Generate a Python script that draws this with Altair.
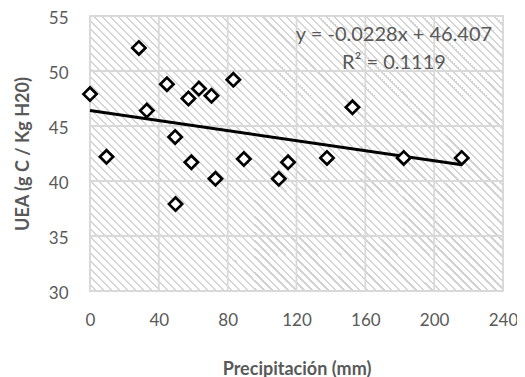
import altair as alt
import pandas as pd

# ---- data ----
precip = [0, 9.6, 28.4, 33, 44.7, 49.5, 49.7, 57.2, 58.9, 63.3,
          70.6, 72.9, 83.3, 89.4, 109.7, 115.1, 137.7, 152.5, 182.3, 216]
uea = [47.9, 42.2, 52.1, 46.4, 48.8, 44.0, 37.9, 47.5, 41.7, 48.4,
       47.75, 40.2, 49.2, 42.0, 40.2, 41.7, 42.1, 46.7, 42.1, 42.1]
x_ticks = [0, 40, 80, 120, 160, 200, 240]
y_ticks = [30, 35, 40, 45, 50, 55]
slope = -0.0228
intercept = 46.407
eq_text = "y = -0.0228x + 46.407"
r2_text = "R² = 0.1119"

W, H = 413, 275
FONT = "Lato"
GREY = "#595959"
GRID = "#d9d9d9"

pts = pd.DataFrame({"precip": precip, "uea": uea})
trend = pd.DataFrame({"precip": [0, max(precip)]})
trend["uea"] = slope * trend["precip"] + intercept

xscale = alt.Scale(domain=[0, 240], nice=False, zero=False)
yscale = alt.Scale(domain=[30, 55], nice=False, zero=False)

# hatch background as a striped linear gradient (downward diagonal)
s = (W + H) / (W * W + H * H)
period = 8 / (W + H)
stops = []
o = 0.0
while o < 1.0:
    a, b, c = o, min(o + period * 0.7, 1.0), min(o + period, 1.0)
    stops += [{"offset": a, "color": "#ffffff"}, {"offset": b, "color": "#ffffff"}]
    if b < 1.0:
        stops += [{"offset": b, "color": "#d4d4d4"}, {"offset": c, "color": "#d4d4d4"}]
    o = c
hatch = alt.Chart(pd.DataFrame({"a": [0]})).mark_rect(
    fill=alt.Gradient(gradient="linear", stops=stops,
                      x1=0, y1=1, x2=W * s, y2=1 - H * s),
    strokeWidth=0,
).encode(x=alt.value(0), x2=alt.value(W), y=alt.value(0), y2=alt.value(H))

xgrid = alt.Chart(pd.DataFrame({"v": x_ticks})).mark_rule(
    color=GRID, strokeWidth=1.8
).encode(x=alt.X("v:Q", scale=xscale))
ygrid = alt.Chart(pd.DataFrame({"v": y_ticks})).mark_rule(
    color=GRID, strokeWidth=1.8
).encode(y=alt.Y("v:Q", scale=yscale))

line = alt.Chart(trend).mark_line(color="black", strokeWidth=3).encode(
    x=alt.X("precip:Q", scale=xscale), y=alt.Y("uea:Q", scale=yscale)
)

points = alt.Chart(pts).mark_point(
    shape="diamond", size=175, filled=False, fill="white", fillOpacity=1,
    stroke="black", strokeWidth=2.7, opacity=1
).encode(
    x=alt.X("precip:Q", scale=xscale,
            axis=alt.Axis(values=x_ticks, title="Precipitación (mm)", grid=False,
                          domain=False, ticks=False, labelPadding=21,
                          labelFlush=False, labelOverlap=False,
                          titleY=83, titleBaseline="alphabetic")),
    y=alt.Y("uea:Q", scale=yscale,
            axis=alt.Axis(values=y_ticks, title="UEA (g C / Kg H20)", grid=False,
                          domain=False, ticks=False, labelPadding=22,
                          labelOffset=2.5,
                          labelFlush=False, labelOverlap=False,
                          titleX=-67, titleY=H / 2, titleAngle=-90,
                          titleAlign="center", titleBaseline="middle")),
)

eq = alt.Chart(pd.DataFrame({"t": [eq_text]})).mark_text(
    font=FONT, fontSize=20, color=GREY, align="center", baseline="middle"
).encode(x=alt.value(304), y=alt.value(19), text="t:N")
r2 = alt.Chart(pd.DataFrame({"t": [r2_text]})).mark_text(
    font=FONT, fontSize=20, color=GREY, align="center", baseline="middle"
).encode(x=alt.value(304), y=alt.value(47), text="t:N")

chart = alt.layer(hatch, xgrid, ygrid, line, points, eq, r2).properties(
    width=W, height=H,
    autosize=alt.AutoSizeParams(type="none"),
    padding={"left": 82, "top": 8, "right": 14, "bottom": 86},
).configure_view(stroke=GRID, strokeWidth=1.8).configure_axis(
    labelFont=FONT, labelFontSize=17, labelColor=GREY,
    titleFont=FONT, titleFontSize=18, titleColor=GREY, titleFontWeight="bold",
)

chart.save("out.html", embed_options={"renderer": "svg", "actions": False})
